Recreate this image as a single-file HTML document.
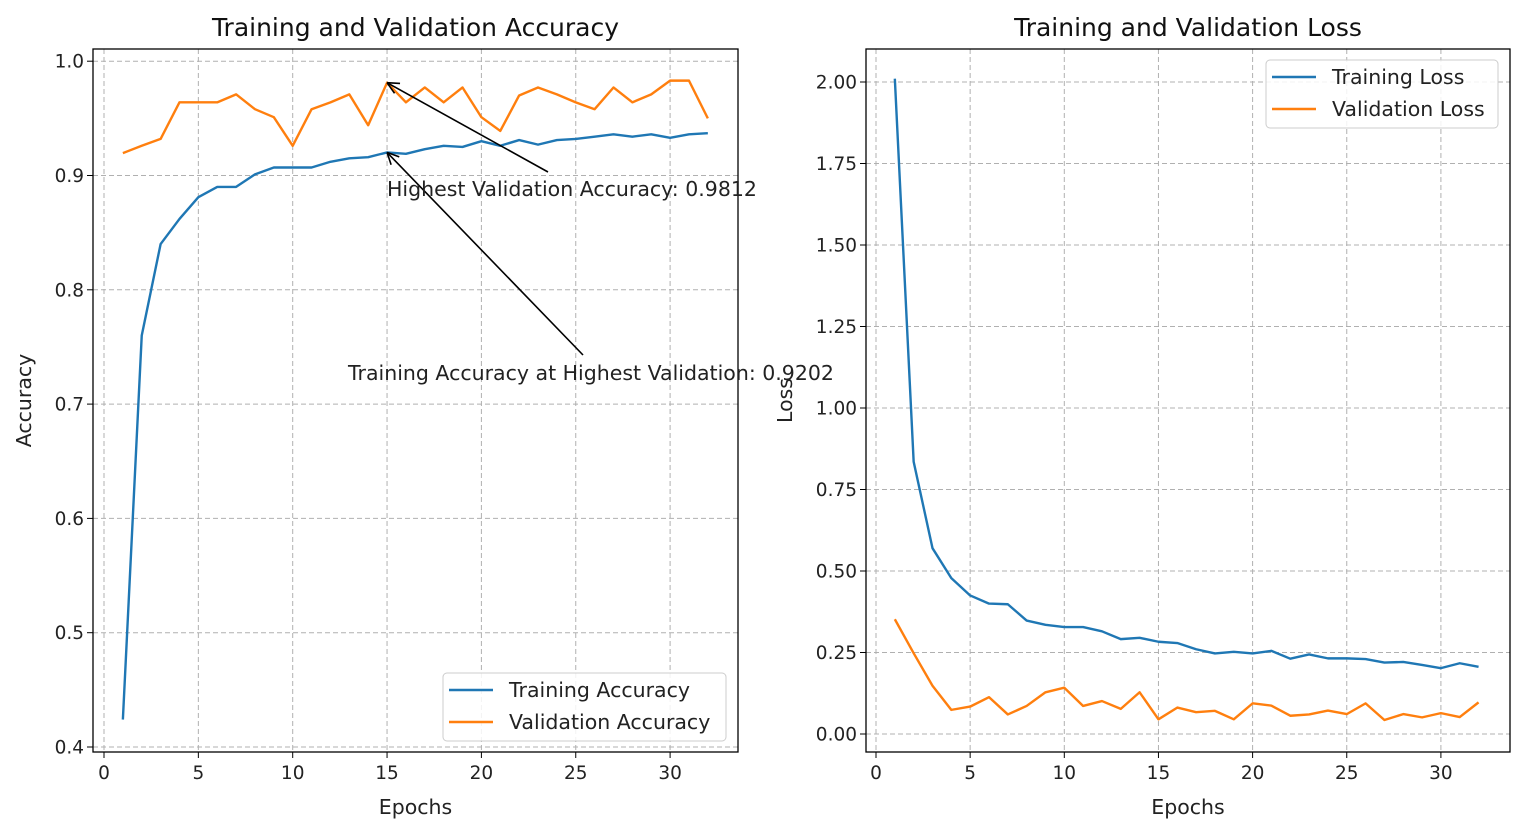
<!DOCTYPE html>
<html><head><meta charset="utf-8"><style>
html,body{margin:0;padding:0;background:#fff;}
svg{display:block;font-family:"DejaVu Sans","Liberation Sans",sans-serif;}
</style></head><body>
<svg id="chart" width="1524" height="833" viewBox="0 0 1524 833" xmlns="http://www.w3.org/2000/svg"></svg>
<script>
const epochs = Array.from({length:32},(_,i)=>i+1);
const trainAcc = [0.424,0.76,0.84,0.862,0.881,0.890,0.890,0.901,0.907,0.907,0.907,0.912,0.915,0.916,0.9202,0.919,0.923,0.926,0.925,0.930,0.926,0.931,0.927,0.931,0.932,0.934,0.936,0.934,0.936,0.933,0.936,0.937];
const valAcc = [0.9196,0.926,0.932,0.964,0.964,0.964,0.971,0.958,0.951,0.926,0.958,0.964,0.971,0.944,0.9812,0.964,0.977,0.964,0.977,0.951,0.939,0.970,0.977,0.971,0.964,0.958,0.977,0.964,0.971,0.983,0.983,0.950];
const trainLoss = [2.01,0.835,0.57,0.478,0.425,0.400,0.398,0.348,0.335,0.328,0.328,0.315,0.291,0.295,0.283,0.279,0.260,0.247,0.252,0.247,0.255,0.231,0.244,0.232,0.232,0.230,0.219,0.221,0.212,0.202,0.217,0.206];
const valLoss = [0.352,0.248,0.148,0.074,0.084,0.113,0.060,0.086,0.128,0.142,0.086,0.101,0.077,0.128,0.045,0.081,0.067,0.071,0.045,0.094,0.087,0.056,0.060,0.072,0.061,0.094,0.043,0.061,0.051,0.064,0.052,0.097];
const xTicks = [0,5,10,15,20,25,30];
const accTicks = [0.4,0.5,0.6,0.7,0.8,0.9,1.0];
const lossTicks = [0,0.25,0.5,0.75,1.0,1.25,1.5,1.75,2.0];

const NS="http://www.w3.org/2000/svg";
const svg=document.getElementById('chart');
function mk(tag,attrs,parent,text){const e=document.createElementNS(NS,tag);for(const k in attrs)e.setAttribute(k,attrs[k]);if(text!==undefined)e.textContent=text;(parent||svg).appendChild(e);return e;}

function panel(o){
  const g=mk('g',{});
  
  
  const X=v=>o.x0+(v-o.xmin)*o.xs, Y=v=>o.y0-(v-o.ymin)*o.ys;
  xTicks.forEach(t=>{
    const l=mk('line',{x1:X(t),x2:X(t),y1:o.top,y2:o.bot,stroke:'#b0b0b0','stroke-width':1,'stroke-dasharray':'5,3'},g);
    
    mk('line',{x1:X(t),x2:X(t),y1:o.bot,y2:o.bot+6,stroke:'#000'},g);
    const tx=mk('text',{x:X(t),y:o.bot+27,'font-size':18.5,'text-anchor':'middle',fill:'#222'},g,String(t));
    
  });
  o.yt.forEach(t=>{
    const l=mk('line',{x1:o.left,x2:o.right,y1:Y(t),y2:Y(t),stroke:'#b0b0b0','stroke-width':1,'stroke-dasharray':'5,3'},g);
    
    mk('line',{x1:o.left-6,x2:o.left,y1:Y(t),y2:Y(t),stroke:'#000'},g);
    const tx=mk('text',{x:o.left-9,y:Y(t)+6.5,'font-size':18.5,'text-anchor':'end',fill:'#222'},g,o.fmt(t));
    
  });
  o.series.forEach(s=>{
    const p=mk('polyline',{points:epochs.map((e,i)=>X(e)+','+Y(s.d[i])).join(' '),fill:'none',stroke:s.c,'stroke-width':2.4,'stroke-linejoin':'round'},g);
    
  });
  const fr=mk('rect',{x:o.left,y:o.top,width:o.right-o.left,height:o.bot-o.top,fill:'none',stroke:'#000','stroke-width':1.3},g);
  
  const ti=mk('text',{x:(o.left+o.right)/2,y:o.top-13,'font-size':25,'text-anchor':'middle',fill:'#111'},g,o.title);
  
  const xl=mk('text',{x:(o.left+o.right)/2,y:o.bot+62,'font-size':20.5,'text-anchor':'middle',fill:'#222'},g,'Epochs');
  
  const yl=mk('text',{x:0,y:0,'font-size':20.5,'text-anchor':'middle',fill:'#222',transform:`translate(${o.ylx},${(o.top+o.bot)/2}) rotate(-90)`},g,o.ylabel);
  
  const L=o.leg;
  const lb=mk('rect',{x:L.x,y:L.y,width:L.w,height:68,rx:4,fill:'#fff','fill-opacity':0.85,stroke:'#ccc'},g);
  
  o.series.forEach((s,i)=>{
    const yy=L.y+17+i*32;
    mk('line',{x1:L.x+6,x2:L.x+50,y1:yy,y2:yy,stroke:s.c,'stroke-width':2.4},g);
    const t=mk('text',{x:L.x+66,y:yy+7,'font-size':20.5,fill:'#222'},g,s.label);
    
  });
  return {X,Y,g};
}

const A=panel({name:'accuracy-chart',left:93,right:738,top:49,bot:752,x0:104,xmin:0,xs:18.87,y0:747,ymin:0.4,ys:1143,
  yt:accTicks,fmt:t=>t.toFixed(1),title:'Training and Validation Accuracy',ylabel:'Accuracy',ylx:31,
  series:[{d:trainAcc,c:'#1f77b4',n:'training-accuracy-line',label:'Training Accuracy'},{d:valAcc,c:'#ff7f0e',n:'validation-accuracy-line',label:'Validation Accuracy'}],
  leg:{x:443,y:673,w:283}});
panel({name:'loss-chart',left:866,right:1510,top:49,bot:752,x0:876,xmin:0,xs:18.83,y0:734,ymin:0,ys:326,
  yt:lossTicks,fmt:t=>t.toFixed(2),title:'Training and Validation Loss',ylabel:'Loss',ylx:792,
  series:[{d:trainLoss,c:'#1f77b4',n:'training-loss-line',label:'Training Loss'},{d:valLoss,c:'#ff7f0e',n:'validation-loss-line',label:'Validation Loss'}],
  leg:{x:1266,y:60,w:232}});

let bi=0;valAcc.forEach((v,i)=>{if(v>valAcc[bi])bi=i;});
bi=14;
function arrow(x1,y1,x2,y2,name){
  const ang=Math.atan2(y2-y1,x2-x1);
  const l=mk('line',{x1,y1,x2,y2,stroke:'#000','stroke-width':1.6},A.g);
  
  [0.45,-0.45].forEach(d=>mk('line',{x1:x2,y1:y2,x2:x2-13*Math.cos(ang+d),y2:y2-13*Math.sin(ang+d),stroke:'#000','stroke-width':1.6},A.g));
}
const hx=A.X(epochs[bi]);
arrow(548,172,hx,A.Y(valAcc[bi]),'val-annotation-arrow');
arrow(583,355,hx,A.Y(trainAcc[bi]),'train-annotation-arrow');
const t1=mk('text',{x:387,y:196,'font-size':20.5,fill:'#222'},A.g,'Highest Validation Accuracy: '+valAcc[bi].toFixed(4));

const t2=mk('text',{x:348,y:380,'font-size':20.5,fill:'#222'},A.g,'Training Accuracy at Highest Validation: '+trainAcc[bi].toFixed(4));

</script>
</body></html>
